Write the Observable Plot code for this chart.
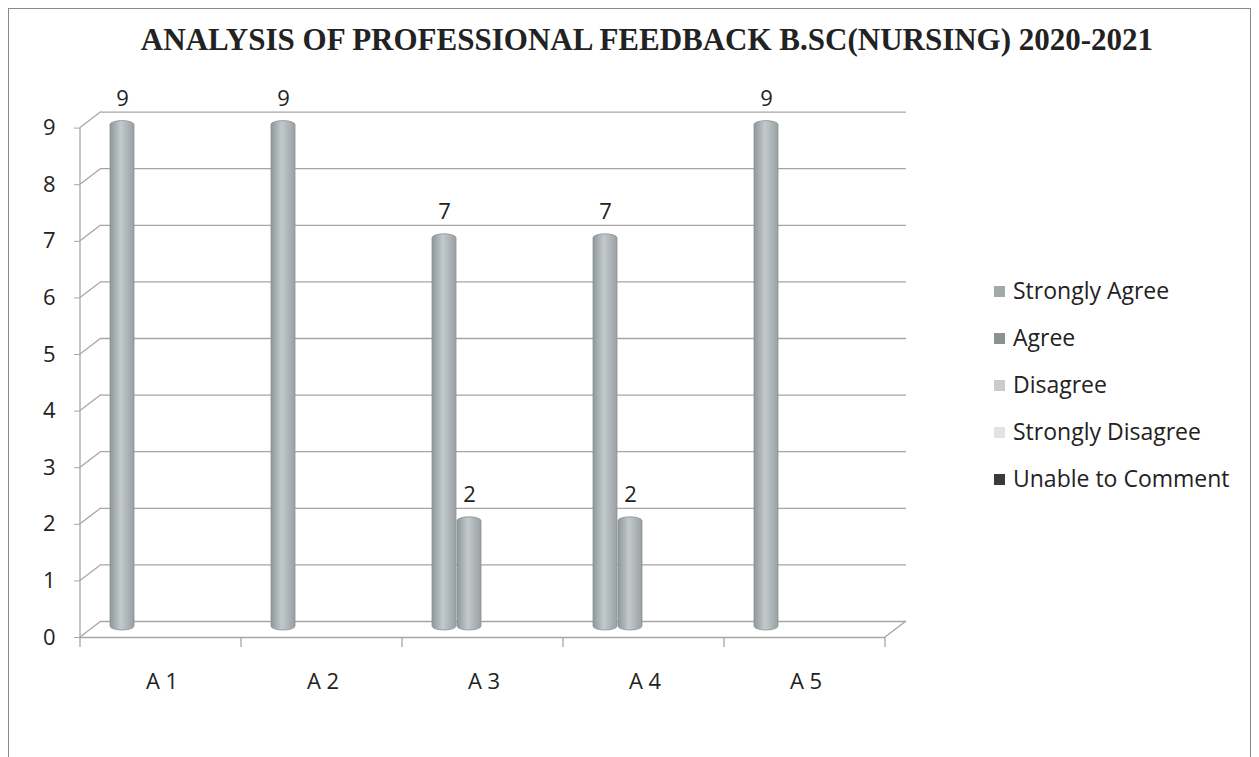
<!DOCTYPE html>
<html>
<head>
<meta charset="utf-8">
<script src="https://cdn.jsdelivr.net/npm/d3@7"></script>
<script src="https://cdn.jsdelivr.net/npm/@observablehq/plot@0.6"></script>
<style>
  html, body { margin: 0; padding: 0; background: #fff; }
  body { width: 1259px; height: 757px; position: relative; overflow: hidden; font-family: "Open Sans", sans-serif; }
  #frame { position: absolute; left: 8px; top: 8px; width: 1243px; height: 770px; border: 1px solid #8a8a8a; box-sizing: border-box; }
  #title { position: absolute; left: 0px; width: 1294px; top: 22px; text-align: center; font-family: "Liberation Serif", serif; font-weight: bold; font-size: 31px; color: #222; white-space: nowrap; }
  #chart { position: absolute; left: 0; top: 0; }
  #legend { position: absolute; left: 994px; top: 274px; font-size: 23px; color: #222; }
  #legend .item { height: 47px; display: flex; align-items: flex-start; white-space: nowrap; }
  #legend .sw { width: 11px; height: 11px; margin-right: 8px; margin-top: 12px; }
</style>
</head>
<body>
<div id="frame"></div>
<div id="title">ANALYSIS OF PROFESSIONAL FEEDBACK B.SC(NURSING) 2020-2021</div>
<div id="chart"></div>
<div id="legend"></div>
<script>
const categories = ["A 1", "A 2", "A 3", "A 4", "A 5"];
const series = ["Strongly Agree", "Agree", "Disagree", "Strongly Disagree", "Unable to Comment"];
const stronglyAgree = [9, 9, 7, 7, 9];
const agree = [0, 0, 2, 2, 0];
const disagree = [0, 0, 0, 0, 0];
const stronglyDisagree = [0, 0, 0, 0, 0];
const unableToComment = [0, 0, 0, 0, 0];
const yTicks = [0, 1, 2, 3, 4, 5, 6, 7, 8, 9];

const seriesValues = [stronglyAgree, agree, disagree, stronglyDisagree, unableToComment];
const legendColors = ["#a3a9ab", "#8c9294", "#c9cccc", "#e2e4e4", "#3a3a3a"];
const gradStops = [
  ["#8e979a", "#c3cacc", "#98a0a3"],
  ["#8e979a", "#c3cacc", "#98a0a3"],
  ["#b8bcbc", "#dfe2e2", "#c0c4c4"],
  ["#d5d8d8", "#eef0f0", "#dadddd"],
  ["#2e2e2e", "#5a5a5a", "#333333"]
];

const rows = [];
categories.forEach((c, i) => {
  series.forEach((s, j) => rows.push({category: c, series: s, value: seriesValues[j][i]}));
});

const gridColor = "#a6a6a6";

const plot = Plot.plot({
  width: 1259,
  height: 757,
  marginLeft: 81,
  marginRight: 373,
  marginTop: 120.6,
  marginBottom: 127,
  style: {fontFamily: "Open Sans, sans-serif", fontSize: "22px", color: "#222", background: "transparent"},
  fx: {domain: categories, padding: 0, label: null},
  x: {domain: series, paddingInner: 0.04, paddingOuter: 0.74, align: 0.78, axis: null},
  y: {domain: [0, 9], label: null},
  color: {type: "ordinal", domain: series, range: series.map((s, i) => `url(#grad${i})`)},
  marks: [
    Plot.gridY(yTicks, {stroke: gridColor, strokeOpacity: 1, strokeWidth: 1.3, dx: 20, dy: -9}),
    Plot.ruleY([0], {stroke: gridColor, strokeWidth: 1.3, dy: 7, dx: -1}),
    Plot.axisY(yTicks, {anchor: "left", tickSize: 6, tickPadding: 19, dy: 7, dx: -1, stroke: gridColor, fontSize: 22, tickFormat: "d", label: null}),
    Plot.axisFx({anchor: "bottom", tickSize: 0, tickPadding: 43, fontSize: 22, label: null}),
    Plot.barY(rows, {fx: "category", x: "series", y: "value", fill: "series", stroke: "#8a9295", strokeWidth: 0.8, rx: 12, ry: 4}),
    Plot.text(rows.filter(d => d.value > 0), {fx: "category", x: "series", y: "value", text: d => String(d.value), dy: -22, fontSize: 22, fill: "#222"})
  ]
});

// gradients for cylinder look
const svg = d3.select(plot);
const defs = svg.insert("defs", ":first-child");
gradStops.forEach((stops, i) => {
  const g = defs.append("linearGradient").attr("id", `grad${i}`).attr("x1", "0").attr("x2", "1").attr("y1", "0").attr("y2", "0");
  g.append("stop").attr("offset", "0%").attr("stop-color", stops[0]);
  g.append("stop").attr("offset", "45%").attr("stop-color", stops[1]);
  g.append("stop").attr("offset", "100%").attr("stop-color", stops[2]);
});

// 3D wall outline built from the plot's scales
const yS = plot.scale("y");
const fxS = plot.scale("fx");
const frontX = fxS.apply(categories[0]) - 1;
const endX = fxS.apply(categories[categories.length - 1]) + fxS.bandwidth - 1;
const deco = svg.append("g").attr("stroke", gridColor).attr("stroke-width", 1.3).attr("fill", "none");
deco.append("line").attr("x1", frontX).attr("x2", frontX)
  .attr("y1", yS.apply(9) + 7).attr("y2", yS.apply(0) + 7);
yTicks.forEach(t => {
  deco.append("line").attr("x1", frontX).attr("y1", yS.apply(t) + 7)
    .attr("x2", frontX + 21).attr("y2", yS.apply(t) - 9);
});
deco.append("line").attr("x1", endX).attr("y1", yS.apply(0) + 7)
  .attr("x2", endX + 21).attr("y2", yS.apply(0) - 9);
categories.forEach(c => {
  const x = fxS.apply(c) - 1;
  deco.append("line").attr("x1", x).attr("x2", x).attr("y1", yS.apply(0) + 7).attr("y2", yS.apply(0) + 17);
});
deco.append("line").attr("x1", endX).attr("x2", endX).attr("y1", yS.apply(0) + 7).attr("y2", yS.apply(0) + 17);

document.getElementById("chart").appendChild(plot);

const legend = document.getElementById("legend");
series.forEach((s, i) => {
  const item = document.createElement("div");
  item.className = "item";
  const sw = document.createElement("div");
  sw.className = "sw";
  sw.style.background = legendColors[i];
  const t = document.createElement("span");
  t.textContent = s;
  item.appendChild(sw);
  item.appendChild(t);
  legend.appendChild(item);
});
</script>
</body>
</html>
